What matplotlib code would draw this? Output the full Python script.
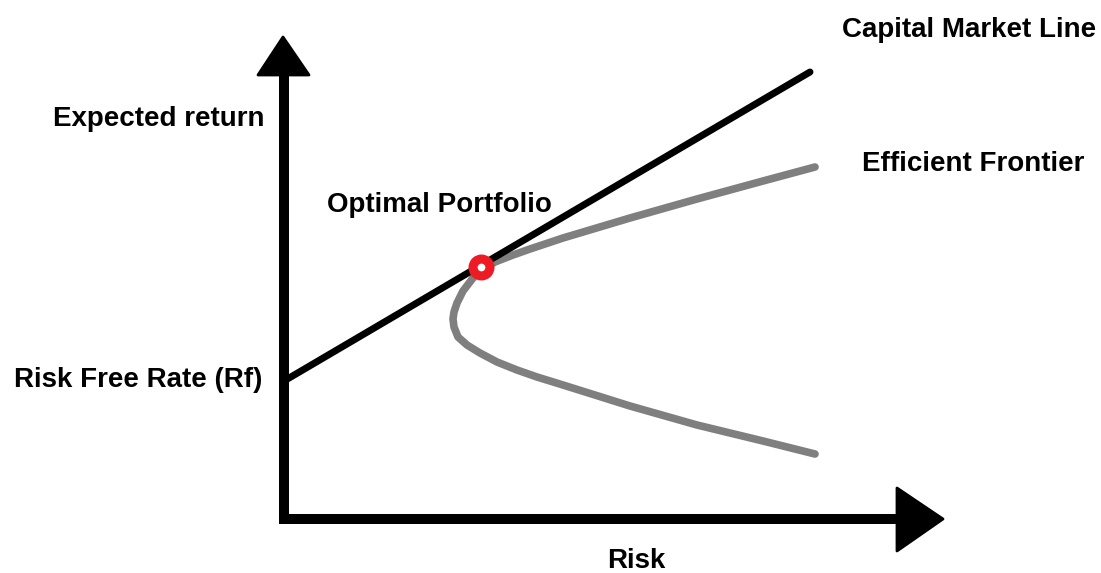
import matplotlib
matplotlib.use("Agg")
import matplotlib.pyplot as plt
from matplotlib.patches import Polygon

# ================================
# Data (risk / return, in picture units, origin at axis corner)
# ================================
frontier_risk = [531, 479, 413, 346, 279, 246, 229, 211, 197, 189,
                 179, 173, 170, 169, 170, 174, 183, 196, 213, 233,
                 253, 279, 346, 413, 479, 531]
frontier_return = [352, 338, 320, 301, 281, 270, 264, 257, 249, 241,
                   228, 216, 207, 200, 192, 182, 174, 166, 157, 149,
                   142, 134, 113, 94, 78, 65]

cml_risk = [0, 526]
cml_return = [138, 447]

optimal_risk = [197]
optimal_return = [252]

labels = {
    "Capital Market Line": (558, 482),
    "Efficient Frontier": (578, 348),
    "Expected return": (-231, 393),
    "Optimal Portfolio": (43, 307),
    "Risk Free Rate (Rf)": (-270, 132),
    "Risk": (323, -49),
}

# ================================
# Figure
# ================================
fig = plt.figure(figsize=(11.01, 5.73), dpi=100)
ax = fig.add_axes([0, 0, 1, 1])
ax.set_xlim(-284, 817)
ax.set_ylim(-54, 519)
ax.axis("off")

# axes with arrow heads
ax.plot([0, 0], [-5, 444], color="black", lw=7.2, solid_capstyle="butt")
ax.plot([-5, 613], [0, 0], color="black", lw=7.2, solid_capstyle="butt")
ax.add_patch(Polygon([(-26, 444), (25, 444), (-1, 482)], closed=True,
                     fc="black", ec="black", lw=2, joinstyle="round"))
ax.add_patch(Polygon([(613, 31), (613, -32), (659, 0)], closed=True,
                     fc="black", ec="black", lw=2, joinstyle="round"))

# efficient frontier and capital market line
ax.plot(frontier_risk, frontier_return, color="#7f7f7f", lw=5.5,
        solid_capstyle="round", solid_joinstyle="round")
ax.plot(cml_risk, cml_return, color="black", lw=5,
        solid_capstyle="round")

# optimal portfolio
ax.plot(optimal_risk, optimal_return, "o", ms=12.2, mfc="white",
        mec="#ed1c24", mew=6.5)

for text, (x, y) in labels.items():
    ax.text(x, y, text, fontsize=20, fontweight="bold",
            family="Liberation Sans", ha="left", va="baseline")

fig.savefig("out.png", dpi=100)
